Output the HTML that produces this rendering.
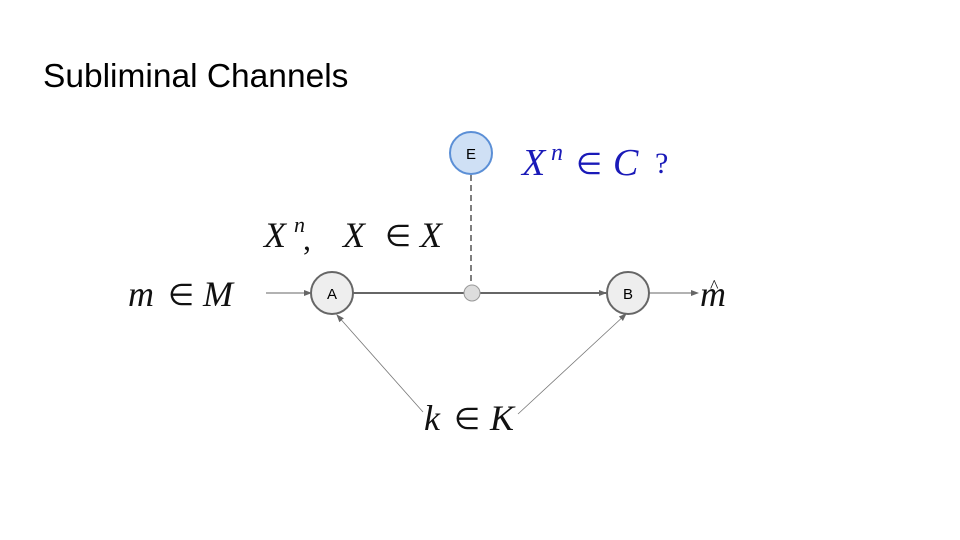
<!DOCTYPE html>
<html><head><style>
body{margin:0;width:960px;height:540px;background:#fff;overflow:hidden}
svg{position:absolute;left:0;top:0}
.m{font-family:"Liberation Serif",serif;font-style:italic}
.e{font-family:"DejaVu Sans",sans-serif;font-weight:200}
</style></head><body>
<svg width="960" height="540" viewBox="0 0 960 540">
<defs>
<marker id="ar" markerWidth="8" markerHeight="8" refX="7" refY="4" orient="auto" markerUnits="userSpaceOnUse"><path d="M0,1 L8,4 L0,7z" fill="#666"/></marker>
</defs>
<text x="43" y="87" font-family="Liberation Sans,sans-serif" font-size="33.5" fill="#000">Subliminal Channels</text>
<line x1="471" y1="175" x2="471" y2="285" stroke="#555" stroke-width="1.5" stroke-dasharray="6,4"/>
<line x1="353" y1="293" x2="606" y2="293" stroke="#666" stroke-width="2" marker-end="url(#ar)"/>
<line x1="266" y1="293" x2="311" y2="293" stroke="#666" stroke-width="1" marker-end="url(#ar)"/>
<line x1="649" y1="293" x2="698" y2="293" stroke="#666" stroke-width="1" marker-end="url(#ar)"/>
<line x1="423" y1="412" x2="337" y2="315" stroke="#777" stroke-width="0.8" marker-end="url(#ar)"/>
<line x1="518" y1="414" x2="626" y2="314" stroke="#777" stroke-width="0.8" marker-end="url(#ar)"/>
<circle cx="332" cy="293" r="21" fill="#eee" stroke="#666" stroke-width="2"/>
<text x="332" y="299" text-anchor="middle" font-family="Liberation Sans,sans-serif" font-size="15">A</text>
<circle cx="628" cy="293" r="21" fill="#eee" stroke="#666" stroke-width="2"/>
<text x="628" y="299" text-anchor="middle" font-family="Liberation Sans,sans-serif" font-size="15">B</text>
<circle cx="472" cy="293" r="8" fill="#ddd" stroke="#999" stroke-width="1"/>
<circle cx="471" cy="153" r="21" fill="#cfe0f5" stroke="#5b8fd6" stroke-width="2"/>
<text x="471" y="159" text-anchor="middle" font-family="Liberation Sans,sans-serif" font-size="15">E</text>
<g fill="#1a1ab8">
<text x="522" y="175" class="m" font-size="38">X</text>
<text x="551" y="160" class="m" font-size="24">n</text>
<text x="576" y="174" class="e" font-size="30">∈</text>
<text x="613" y="175" class="m" font-size="38">C</text>
<text x="655" y="173" font-family="Liberation Serif,serif" font-size="30">?</text>
</g>
<g fill="#111">
<text x="264" y="247" class="m" font-size="36">X</text>
<text x="294" y="232" class="m" font-size="22">n</text>
<text x="303" y="250" font-family="Liberation Serif,serif" font-size="32">,</text>
<text x="343" y="247" class="m" font-size="36">X</text>
<text x="385" y="246" class="e" font-size="30">∈</text>
<text x="420" y="247" class="m" font-size="36">X</text>
<text x="128" y="306" class="m" font-size="36">m</text>
<text x="168" y="305" class="e" font-size="30">∈</text>
<text x="203" y="306" class="m" font-size="36">M</text>
<text x="700" y="306" class="m" font-size="36">m</text>
<text x="710" y="292" font-family="Liberation Serif,serif" font-size="18">^</text>
<text x="424" y="430" class="m" font-size="36">k</text>
<text x="454" y="429" class="e" font-size="30">∈</text>
<text x="490" y="430" class="m" font-size="36">K</text>
</g>
</svg>
</body></html>
